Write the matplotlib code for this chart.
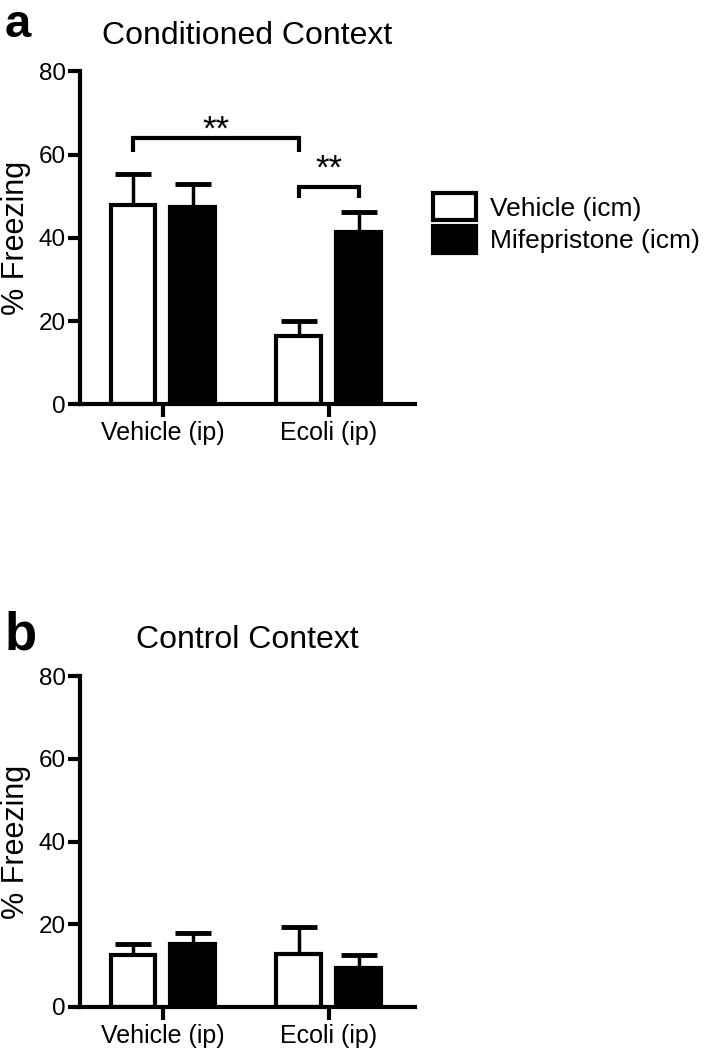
#!/usr/bin/env python3
"""Two-panel bar chart: % freezing in conditioned vs control context."""
import matplotlib
matplotlib.use("Agg")
import matplotlib.pyplot as plt
from matplotlib.patches import Patch
import numpy as np

plt.rcParams["font.family"] = ["Liberation Sans", "DejaVu Sans"]

GROUPS = ["Vehicle (ip)", "Ecoli (ip)"]
SERIES = ["Vehicle (icm)", "Mifepristone (icm)"]
FACE = ["white", "black"]

# panel a: conditioned context (mean, upper SEM)
COND_VEH = [47.8, 16.3]
COND_VEH_ERR = [7.5, 3.7]
COND_MIF = [47.4, 41.4]
COND_MIF_ERR = [5.5, 4.7]

# panel b: control context
CTRL_VEH = [12.6, 12.8]
CTRL_VEH_ERR = [2.6, 6.5]
CTRL_MIF = [15.2, 9.4]
CTRL_MIF_ERR = [2.7, 3.2]

YTICKS = [0, 20, 40, 60, 80]
LW = 3.0
OFFSET = 0.18
WIDTH = 0.27


def draw_panel(ax, means, errs, title):
    x = np.arange(len(GROUPS))
    for k, (m, e) in enumerate(zip(means, errs)):
        pos = x + (2 * k - 1) * OFFSET
        ax.errorbar(pos, m, yerr=[np.zeros(len(e)), e], fmt="none",
                    ecolor="black", elinewidth=2.5, capsize=13, capthick=3.5,
                    zorder=1)
        ax.bar(pos, m, WIDTH, color=FACE[k], edgecolor="black",
               linewidth=LW, zorder=2)
    ax.set_xlim(-0.5, 1.52)
    ax.set_ylim(0, 80)
    ax.set_yticks(YTICKS)
    ax.set_xticks(x)
    ax.set_xticklabels(GROUPS)
    ax.set_ylabel("% Freezing", fontsize=22)
    ax.yaxis.set_label_coords(-0.146, 0.5)
    ax.set_title(title, fontsize=23, pad=20)
    for s in ("top", "right"):
        ax.spines[s].set_visible(False)
    for s in ("left", "bottom"):
        ax.spines[s].set_linewidth(LW)
        ax.spines[s].set_capstyle("projecting")
    ax.tick_params(axis="both", width=LW, length=9, labelsize=17.5, pad=3)
    ax.tick_params(axis="x", labelsize=18)
    ax.tick_params(axis="y", pad=1)
    return x


fig = plt.figure(figsize=(7.07, 10.5), dpi=100)
ax_a = fig.add_axes([0.113, 0.615, 0.474, 0.317])
ax_b = fig.add_axes([0.113, 0.041, 0.474, 0.315])

x = draw_panel(ax_a, [COND_VEH, COND_MIF], [COND_VEH_ERR, COND_MIF_ERR],
               "Conditioned Context")
draw_panel(ax_b, [CTRL_VEH, CTRL_MIF], [CTRL_VEH_ERR, CTRL_MIF_ERR],
           "Control Context")

# significance brackets in panel a (spanning bar centres)
left = x - OFFSET
right = x + OFFSET


def bracket(ax, x0, x1, y, drop, label, gap):
    ax.plot([x0, x0, x1, x1], [y - drop, y, y, y - drop], color="black",
            lw=LW, solid_capstyle="butt", solid_joinstyle="miter", zorder=3)
    ax.text((x0 + x1) / 2, y + gap, label, ha="center", va="bottom",
            fontsize=25)


bracket(ax_a, left[0], left[1], 63.9, 3.3, "**", -1.9)
bracket(ax_a, left[1], right[1], 52.2, 2.6, "**", 0.3)

handles = [Patch(facecolor=FACE[k], edgecolor="black", linewidth=LW)
           for k in range(2)]
fig.legend(handles, SERIES, loc="upper left", bbox_to_anchor=(0.598, 0.826),
           frameon=False, fontsize=19, handlelength=1.6, handleheight=1.2,
           handletextpad=0.55, labelspacing=0.2, borderaxespad=0)

fig.text(0.006, 0.9652, "a", fontsize=34, fontweight="bold", ha="left",
         va="baseline")
fig.text(0.006, 0.381, "b", fontsize=38, fontweight="bold", ha="left",
         va="baseline")

fig.savefig("out.png", dpi=100)
